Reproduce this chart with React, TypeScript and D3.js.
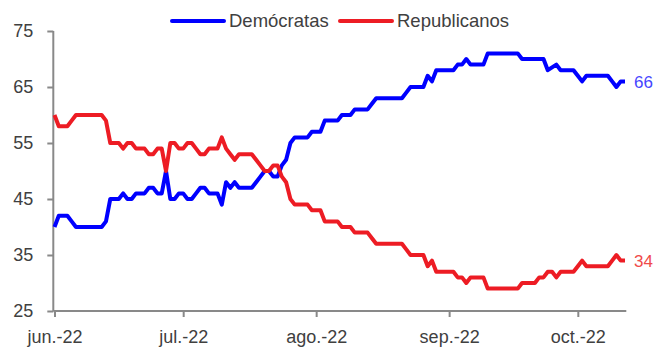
import React, { useEffect, useRef } from "react";
import * as d3 from "d3";

const startDate = new Date(2022, 5, 1);
const seriesNames = ["Demócratas", "Republicanos"];
const seriesColors = ["#0000ff", "#ed1c24"];
const labelColors = ["#4646ff", "#f04a4a"];
const yTicks = [25, 35, 45, 55, 65, 75];
const monthLabels = ["jun.-22", "jul.-22", "ago.-22", "sep.-22", "oct.-22"];

const democratas = [
  40, 42, 42, 42, 41, 40, 40, 40, 40, 40,
  40, 40, 41, 45, 45, 45, 46, 45, 45, 46,
  46, 46, 47, 47, 46, 46, 50, 45, 45, 46,
  46, 45, 45, 46, 47, 47, 46, 46, 46, 44,
  48, 47, 48, 47, 47, 47, 47, 48, 49, 50,
  50, 49, 49, 51, 52, 55, 56, 56, 56, 56,
  57, 57, 57, 59, 59, 59, 59, 60, 60, 60,
  61, 61, 61, 61, 62, 63, 63, 63, 63, 63,
  63, 63, 64, 65, 65, 65, 65, 67, 66, 68,
  68, 68, 68, 68, 69, 69, 70, 69, 69, 69,
  69, 71, 71, 71, 71, 71, 71, 71, 71, 70,
  70, 70, 70, 70, 70, 68, 68.5, 69, 68, 68,
  68, 68, 67, 66, 67, 67, 67, 67, 67, 67,
  66, 65, 66, 66,
];

const republicanos = [
  60, 58, 58, 58, 59, 60, 60, 60, 60, 60,
  60, 60, 59, 55, 55, 55, 54, 55, 55, 54,
  54, 54, 53, 53, 54, 54, 50, 55, 55, 54,
  54, 55, 55, 54, 53, 53, 54, 54, 54, 56,
  54, 53, 52, 53, 53, 53, 53, 52, 51, 50,
  50, 51, 51, 49, 48, 45, 44, 44, 44, 44,
  43, 43, 43, 41, 41, 41, 41, 40, 40, 40,
  39, 39, 39, 39, 38, 37, 37, 37, 37, 37,
  37, 37, 36, 35, 35, 35, 35, 33, 34, 32,
  32, 32, 32, 32, 31, 31, 30, 31, 31, 31,
  31, 29, 29, 29, 29, 29, 29, 29, 29, 30,
  30, 30, 30, 31, 31, 32, 32, 31, 32, 32,
  32, 32, 33, 34, 33, 33, 33, 33, 33, 33,
  34, 35, 34, 34,
];

const W = 654;
const H = 349;
const FONT = "'Liberation Sans', Arial, sans-serif";
const AXIS_COLOR = "#898989";
const TEXT_COLOR = "#404040";

export default function App() {
  const ref = useRef<SVGSVGElement | null>(null);

  useEffect(() => {
    const svg = d3.select(ref.current);
    svg.selectAll("*").remove();

    const dates = democratas.map((_, i) => d3.timeDay.offset(startDate, i));
    const x = d3
      .scaleTime()
      .domain([dates[0], dates[dates.length - 1]])
      .range([54.5, 625]);
    const y = d3.scaleLinear().domain([25, 75]).range([311, 31]);

    const axisLeft = 53.3;
    const axisRight = 626.3;

    svg
      .append("line")
      .attr("x1", axisLeft)
      .attr("x2", axisLeft)
      .attr("y1", y(75))
      .attr("y2", y(25))
      .attr("stroke", AXIS_COLOR)
      .attr("stroke-width", 2);
    svg
      .append("line")
      .attr("x1", axisLeft)
      .attr("x2", axisRight)
      .attr("y1", y(25))
      .attr("y2", y(25))
      .attr("stroke", AXIS_COLOR)
      .attr("stroke-width", 2);

    const gy = svg
      .append("g")
      .attr("transform", `translate(${axisLeft},0)`)
      .call(
        d3
          .axisLeft(y)
          .tickValues(yTicks)
          .tickSize(6)
          .tickSizeOuter(0)
          .tickPadding(14)
          .tickFormat(d3.format("d"))
      );
    gy.select(".domain").remove();
    gy.selectAll(".tick line").attr("stroke", AXIS_COLOR).attr("stroke-width", 2);
    gy.selectAll(".tick text")
      .attr("fill", TEXT_COLOR)
      .style("font-family", FONT)
      .style("font-size", "18px");

    const monthTicks = d3.timeMonth.range(startDate, d3.timeDay.offset(dates[dates.length - 1], 1));
    const gx = svg
      .append("g")
      .attr("transform", `translate(0,${y(25)})`)
      .call(
        d3
          .axisBottom(x)
          .tickValues(monthTicks)
          .tickSize(6)
          .tickSizeOuter(0)
          .tickPadding(13)
          .tickFormat((_, i) => monthLabels[i])
      );
    gx.select(".domain").remove();
    gx.selectAll(".tick line").attr("stroke", AXIS_COLOR).attr("stroke-width", 2);
    gx.selectAll(".tick text")
      .attr("fill", TEXT_COLOR)
      .style("font-family", FONT)
      .style("font-size", "18px");

    const series = [democratas, republicanos];
    series.forEach((vals, si) => {
      const line = d3
        .line<number>()
        .x((_, i) => x(dates[i]))
        .y((v) => y(v));
      svg
        .append("path")
        .attr("d", line(vals))
        .attr("fill", "none")
        .attr("stroke", seriesColors[si])
        .attr("stroke-width", 4)
        .attr("stroke-linejoin", "round");
      const last = vals[vals.length - 1];
      svg
        .append("text")
        .attr("x", x(dates[dates.length - 1]) + 9)
        .attr("y", y(last))
        .attr("dy", "0.36em")
        .attr("fill", labelColors[si])
        .style("font-family", FONT)
        .style("font-size", "17px")
        .text(d3.format("d")(last));
    });

    const legendX = [172, 340];
    seriesNames.forEach((name, si) => {
      const g = svg.append("g").attr("transform", `translate(${legendX[si]},21)`);
      g.append("line")
        .attr("x1", 0)
        .attr("x2", 52)
        .attr("y1", 0)
        .attr("y2", 0)
        .attr("stroke", seriesColors[si])
        .attr("stroke-width", 4)
        .attr("stroke-linecap", "round");
      g.append("text")
        .attr("x", 57)
        .attr("y", 0)
        .attr("dy", "0.35em")
        .attr("fill", TEXT_COLOR)
        .style("font-family", FONT)
        .style("font-size", "18.5px")
        .text(name);
    });
  }, []);

  return (
    <svg
      ref={ref}
      width={W}
      height={H}
      style={{ position: "absolute", left: 0, top: 0, background: "#fff" }}
    />
  );
}
